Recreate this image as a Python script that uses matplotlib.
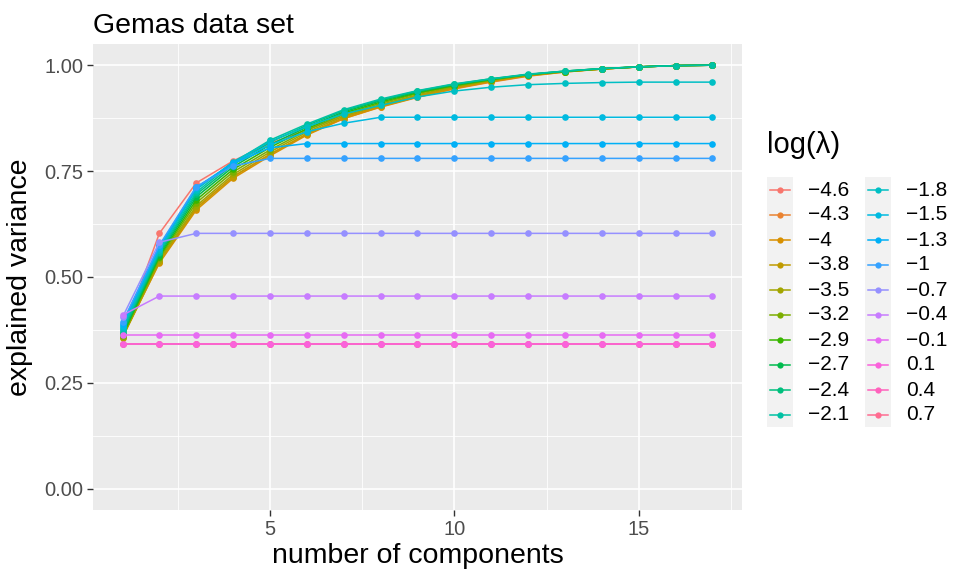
import numpy as np
import matplotlib
matplotlib.use("Agg")
from matplotlib import pyplot as plt
from matplotlib.patches import Rectangle

plt.rcParams['font.family'] = ['Liberation Sans', 'DejaVu Sans']

components = list(range(1, 18))

lambda_labels = ["\u22124.6", "\u22124.3", "\u22124", "\u22123.8", "\u22123.5",
                 "\u22123.2", "\u22122.9", "\u22122.7", "\u22122.4", "\u22122.1",
                 "\u22121.8", "\u22121.5", "\u22121.3", "\u22121", "\u22120.7",
                 "\u22120.4", "\u22120.1", "0.1", "0.4", "0.7"]

colors = ["#F8766D", "#EA8331", "#D89000", "#C09B00", "#A3A500",
          "#7CAE00", "#39B600", "#00BB4E", "#00BF7D", "#00C1A3",
          "#00BFC4", "#00BAE0", "#00B0F6", "#35A2FF", "#9590FF",
          "#C77CFF", "#E76BF3", "#FA62DB", "#FF62BC", "#FF6C91"]

# explained variance per number of components, one list per log(lambda)
ev_m46 = [0.365, 0.603, 0.722, 0.774, 0.815, 0.848, 0.880, 0.905, 0.928, 0.948, 0.963, 0.976, 0.985, 0.991, 0.996, 0.999, 1.0]
ev_m43 = [0.360, 0.535, 0.664, 0.737, 0.789, 0.837, 0.874, 0.902, 0.925, 0.944, 0.960, 0.974, 0.984, 0.991, 0.996, 0.999, 1.0]
ev_m40 = [0.358, 0.533, 0.658, 0.733, 0.786, 0.835, 0.874, 0.901, 0.924, 0.945, 0.961, 0.975, 0.984, 0.991, 0.996, 0.999, 1.0]
ev_m38 = [0.357, 0.536, 0.662, 0.737, 0.790, 0.838, 0.877, 0.904, 0.927, 0.947, 0.963, 0.976, 0.985, 0.991, 0.996, 0.999, 1.0]
ev_m35 = [0.358, 0.540, 0.668, 0.742, 0.795, 0.842, 0.880, 0.907, 0.930, 0.949, 0.964, 0.977, 0.985, 0.991, 0.996, 0.999, 1.0]
ev_m32 = [0.360, 0.544, 0.675, 0.748, 0.800, 0.846, 0.884, 0.910, 0.933, 0.951, 0.965, 0.977, 0.985, 0.991, 0.996, 0.999, 1.0]
ev_m29 = [0.362, 0.548, 0.682, 0.754, 0.806, 0.850, 0.887, 0.913, 0.935, 0.952, 0.966, 0.978, 0.985, 0.992, 0.996, 0.999, 1.0]
ev_m27 = [0.365, 0.552, 0.689, 0.760, 0.812, 0.854, 0.890, 0.916, 0.937, 0.954, 0.967, 0.978, 0.986, 0.992, 0.996, 0.999, 1.0]
ev_m24 = [0.370, 0.556, 0.695, 0.765, 0.818, 0.858, 0.893, 0.918, 0.939, 0.955, 0.968, 0.978, 0.986, 0.992, 0.996, 0.999, 1.0]
ev_m21 = [0.375, 0.560, 0.700, 0.770, 0.823, 0.861, 0.895, 0.920, 0.940, 0.956, 0.968, 0.979, 0.986, 0.992, 0.996, 0.999, 1.0]
ev_m18 = [0.380, 0.564, 0.706, 0.772, 0.820, 0.855, 0.885, 0.905, 0.925, 0.939, 0.948, 0.954, 0.957, 0.959, 0.960, 0.960, 0.960]
ev_m15 = [0.385, 0.568, 0.710, 0.770, 0.812, 0.843, 0.863, 0.877, 0.877, 0.877, 0.877, 0.877, 0.877, 0.877, 0.877, 0.877, 0.877]
ev_m13 = [0.390, 0.572, 0.712, 0.768, 0.805, 0.815, 0.815, 0.815, 0.815, 0.815, 0.815, 0.815, 0.815, 0.815, 0.815, 0.815, 0.815]
ev_m10 = [0.393, 0.575, 0.713, 0.762, 0.780, 0.780, 0.780, 0.780, 0.780, 0.780, 0.780, 0.780, 0.780, 0.780, 0.780, 0.780, 0.780]
ev_m07 = [0.405, 0.582, 0.603, 0.603, 0.603, 0.603, 0.603, 0.603, 0.603, 0.603, 0.603, 0.603, 0.603, 0.603, 0.603, 0.603, 0.603]
ev_m04 = [0.410, 0.455, 0.455, 0.455, 0.455, 0.455, 0.455, 0.455, 0.455, 0.455, 0.455, 0.455, 0.455, 0.455, 0.455, 0.455, 0.455]
ev_m01 = [0.364, 0.364, 0.364, 0.364, 0.364, 0.364, 0.364, 0.364, 0.364, 0.364, 0.364, 0.364, 0.364, 0.364, 0.364, 0.364, 0.364]
ev_p01 = [0.342, 0.342, 0.342, 0.342, 0.342, 0.342, 0.342, 0.342, 0.342, 0.342, 0.342, 0.342, 0.342, 0.342, 0.342, 0.342, 0.342]
ev_p04 = [0.342, 0.342, 0.342, 0.342, 0.342, 0.342, 0.342, 0.342, 0.342, 0.342, 0.342, 0.342, 0.342, 0.342, 0.342, 0.342, 0.342]
ev_p07 = [0.342, 0.342, 0.342, 0.342, 0.342, 0.342, 0.342, 0.342, 0.342, 0.342, 0.342, 0.342, 0.342, 0.342, 0.342, 0.342, 0.342]

series = [ev_m46, ev_m43, ev_m40, ev_m38, ev_m35, ev_m32, ev_m29, ev_m27, ev_m24, ev_m21,
          ev_m18, ev_m15, ev_m13, ev_m10, ev_m07, ev_m04, ev_m01, ev_p01, ev_p04, ev_p07]

fig = plt.figure(figsize=(9.54, 5.74), dpi=100)
ax = fig.add_axes([93/954, 1 - 510/574, (742 - 93)/954, (510 - 44)/574])
ax.set_facecolor("#EBEBEB")

for i, (vals, col) in enumerate(zip(series, colors)):
    z = 3 + i
    if lambda_labels[i] in ("0.4", "0.7"):
        z = 2
    ax.plot(components, vals, color=col, lw=1.1, marker="o", ms=4.8,
            markeredgewidth=0, zorder=z)

ax.set_xlim(0.2, 17.8)
ax.set_ylim(-0.05, 1.05)
ax.set_xticks([5, 10, 15])
ax.set_xticks([2.5, 7.5, 12.5, 17.5], minor=True)
ax.set_yticks([0, 0.25, 0.5, 0.75, 1.0])
ax.set_yticklabels(["0.00", "0.25", "0.50", "0.75", "1.00"])
ax.set_yticks([0.125, 0.375, 0.625, 0.875], minor=True)
ax.grid(which="major", color="white", lw=1.2, zorder=0)
ax.grid(which="minor", color="white", lw=0.6, zorder=0)
ax.set_axisbelow(True)
for s in ax.spines.values():
    s.set_visible(False)
ax.tick_params(which="major", length=4, width=1, color="#333333",
               labelsize=14.5, labelcolor="#4D4D4D", pad=3)
ax.tick_params(which="minor", length=0)

ax.set_xlabel("number of components", fontsize=20.5, labelpad=3)
ax.set_ylabel("explained variance", fontsize=20.5, labelpad=8)
ax.set_title("Gemas data set", fontsize=20.5, loc="left", pad=8)

# legend drawn by hand in pixel coordinates
lax = fig.add_axes([0, 0, 1, 1], facecolor="none")
lax.set_xlim(0, 954)
lax.set_ylim(574, 0)
lax.axis("off")
lax.text(767, 145, "log(\u03bb)", fontsize=21, va="center", ha="left")
for c in range(2):
    x0 = 767 + c * 98
    lax.add_patch(Rectangle((x0, 177), 26, 250, color="#F2F2F2", lw=0))
for i, (lab, col) in enumerate(zip(lambda_labels, colors)):
    c, r = divmod(i, 10)
    x0 = 767 + c * 98
    y0 = 190 + r * 25
    lax.plot([x0 + 3, x0 + 23], [y0, y0], color=col, lw=1.1, marker=None)
    lax.plot([x0 + 13], [y0], color=col, marker="o", ms=4.5, markeredgewidth=0)
    lax.text(x0 + 41, y0, lab, fontsize=15, va="center", ha="left")

fig.savefig("out.png", dpi=100)
